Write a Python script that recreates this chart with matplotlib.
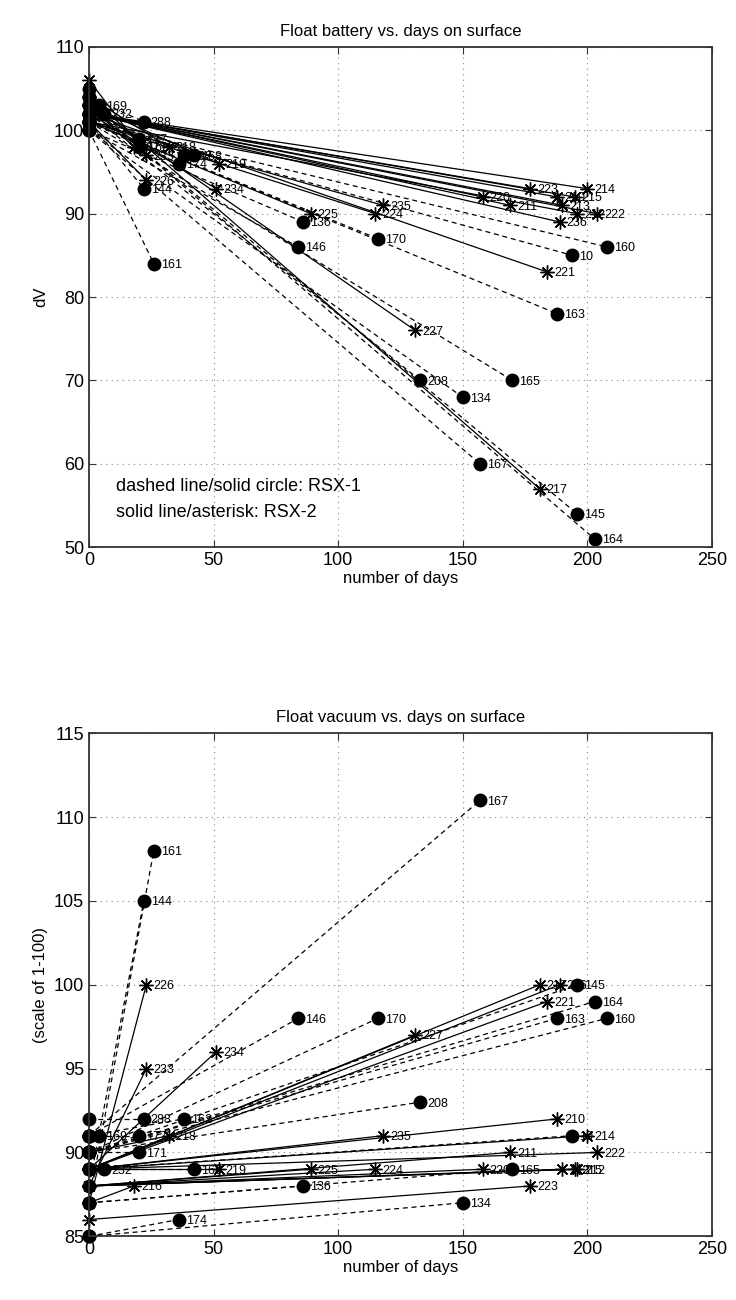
import matplotlib
matplotlib.use("Agg")
import matplotlib.pyplot as plt

plt.rcParams["font.family"] = ["Liberation Sans", "DejaVu Sans"]

# float id, sensor type (1 = RSX-1: circle/dashed, 2 = RSX-2: asterisk/solid)
float_ids = ["10", "134", "136", "144", "145", "146", "160", "161", "162", "163",
             "164", "165", "167", "168", "169", "170", "171", "174", "177", "208",
             "288", "232",
             "210", "211", "212", "213", "214", "215", "216", "217", "218", "219",
             "220", "221", "222", "223", "224", "225", "226", "227", "233", "234",
             "235", "236"]
rsx_type = [1] * 22 + [2] * 22
days_end = [194, 150, 86, 22, 196, 84, 208, 26, 38, 188,
            203, 170, 157, 42, 4, 116, 20, 36, 20, 133,
            22, 6,
            188, 169, 196, 190, 200, 195, 18, 181, 32, 52,
            158, 184, 204, 177, 115, 89, 23, 131, 23, 51,
            118, 189]
batt_start = [101, 100, 100, 101, 103, 100, 101, 100, 102, 101,
              103, 101, 100, 102, 105, 101, 102, 101, 103, 102,
              104, 104,
              102, 102, 101, 102, 102, 102, 103, 104, 104, 103,
              102, 102, 102, 102, 101, 101, 101, 103, 106, 102,
              101, 102]
batt_end = [85, 68, 89, 93, 54, 86, 86, 84, 97, 78,
            51, 70, 60, 97, 103, 87, 98, 96, 99, 70,
            101, 102,
            92, 91, 90, 91, 93, 92, 98, 57, 98, 96,
            92, 83, 90, 93, 90, 90, 94, 76, 97, 93,
            91, 89]
vac_start = [89, 85, 87, 88, 90, 91, 90, 87, 91, 90,
             90, 87, 91, 89, 91, 90, 90, 85, 91, 90,
             92, 89,
             89, 88, 88, 88, 89, 88, 87, 89, 90, 89,
             88, 89, 89, 86, 88, 88, 87, 89, 88, 89,
             89, 89]
vac_end = [91, 87, 88, 105, 100, 98, 98, 108, 92, 98,
           99, 89, 111, 89, 91, 98, 90, 86, 91, 93,
           92, 89,
           92, 90, 89, 89, 91, 89, 88, 100, 91, 89,
           89, 99, 90, 88, 89, 89, 100, 97, 95, 96,
           91, 100]

asterisk = (8, 2, 0)


def draw_panel(ax, start_vals, end_vals):
    for fid, kind, d, v0, v1 in zip(float_ids, rsx_type, days_end, start_vals, end_vals):
        if kind == 1:
            ls, mk, ms = (0, (4, 3)), "o", 9
        else:
            ls, mk, ms = "-", asterisk, 10
        ax.plot([0, d], [v0, v1], color="black", linestyle=ls, linewidth=0.9,
                marker=mk, markersize=ms, markeredgewidth=1.0,
                markerfacecolor="black", markeredgecolor="black", clip_on=False)
        ax.annotate(fid, (d, v1), xytext=(5, -1), textcoords="offset points",
                    va="center", ha="left", fontsize=9)
    ax.set_xlim(0, 250)
    ax.set_xticks(range(0, 251, 50))
    ax.grid(True, linestyle=(0, (1, 4)), color="#888888", linewidth=0.8)
    ax.tick_params(direction="in", top=True, right=True, labelsize=13, length=5,
                   color="#333333")
    for sp in ax.spines.values():
        sp.set_linewidth(1.3)
        sp.set_color("#333333")
    ax.set_xlabel("number of days", fontsize=12, labelpad=1)


fig = plt.figure(figsize=(7.36, 13.0), dpi=100)
ax1 = fig.add_axes([0.121, 0.579, 0.846, 0.385])
ax2 = fig.add_axes([0.121, 0.049, 0.846, 0.387])

draw_panel(ax1, batt_start, batt_end)
ax1.set_ylim(50, 110)
ax1.set_yticks(range(50, 111, 10))
ax1.set_ylabel("dV", fontsize=12)
ax1.set_title("Float battery vs. days on surface", fontsize=12, pad=8)
ax1.text(11, 57.3, "dashed line/solid circle: RSX-1", fontsize=13, va="center")
ax1.text(11, 54.2, "solid line/asterisk: RSX-2", fontsize=13, va="center")

draw_panel(ax2, vac_start, vac_end)
ax2.set_ylim(85, 115)
ax2.set_yticks(range(85, 116, 5))
ax2.set_ylabel("(scale of 1-100)", fontsize=12)
ax2.set_title("Float vacuum vs. days on surface", fontsize=12, pad=8)

fig.savefig("out.png", dpi=100)
